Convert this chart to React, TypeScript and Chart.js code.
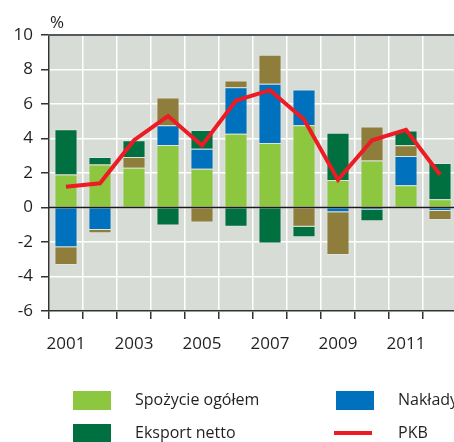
import React, { useEffect, useRef } from "react";
import { Chart, registerables } from "chart.js";

Chart.register(...registerables);

const years = ["2001", "2002", "2003", "2004", "2005", "2006", "2007", "2008", "2009", "2010", "2011", "2012"];
const consumption = [1.91, 2.49, 2.3, 3.63, 2.24, 4.27, 3.74, 4.77, 1.6, 2.72, 1.29, 0.48];
const investment = [-2.3, -1.3, 0, 1.14, 1.16, 2.7, 3.44, 2.07, -0.27, -0.12, 1.7, -0.2];
const inventories = [-1.04, -0.19, 0.63, 1.6, -0.87, 0.39, 1.68, -1.12, -2.49, 1.97, 0.62, -0.52];
const netExports = [2.63, 0.44, 0.97, -1.04, 1.1, -1.12, -2.09, -0.6, 2.74, -0.67, 0.85, 2.1];
const gdp = [1.2, 1.4, 3.9, 5.3, 3.6, 6.2, 6.8, 5.1, 1.6, 3.9, 4.5, 1.9];
const yTicks = [-6, -4, -2, 0, 2, 4, 6, 8, 10];

const C_CONS = "#8dc63f";
const C_INV = "#0071bc";
const C_INVT = "#8f7d3b";
const C_EXP = "#007041";
const C_GDP = "#ed1c24";
const TXT = "#231f20";
const FONT = "'Open Sans', 'Noto Sans', sans-serif";

export default function App() {
  const ref = useRef<HTMLCanvasElement | null>(null);

  useEffect(() => {
    if (!ref.current) return;
    const decor = {
      id: "decor",
      beforeDraw(chart: any) {
        const { ctx, chartArea: a } = chart;
        ctx.save();
        ctx.fillStyle = "#d8dcd6";
        ctx.fillRect(a.left, a.top, a.right - a.left, a.bottom - a.top);
        ctx.restore();
      },
      afterDatasetsDraw(chart: any) {
        const { ctx, chartArea: a } = chart;
        const y0 = chart.scales.y.getPixelForValue(0);
        ctx.save();
        ctx.strokeStyle = "#1a1a1a";
        ctx.lineWidth = 1.5;
        ctx.beginPath();
        ctx.moveTo(a.left, y0);
        ctx.lineTo(a.right, y0);
        ctx.stroke();
        ctx.strokeStyle = "#58595b";
        ctx.lineWidth = 2;
        ctx.beginPath();
        ctx.moveTo(a.left - 1, a.top);
        ctx.lineTo(a.right, a.top);
        ctx.stroke();
        ctx.restore();
      },
      afterDraw(chart: any) {
        const { ctx, chartArea: a } = chart;
        ctx.save();
        ctx.fillStyle = TXT;
        ctx.textBaseline = "middle";
        ctx.textAlign = "left";
        ctx.font = `17px ${FONT}`;
        ctx.fillText("%", a.left + 1, 23);
        ctx.font = `16px ${FONT}`;
        const pos: Record<string, [number, number]> = {
          "Spożycie ogółem": [73, 400],
          "Nakłady brutto na środki trwałe": [336, 400],
          "Eksport netto": [73, 433],
          "PKB": [336, 433],
          "Zmiana zapasów": [73, 466],
        };
        chart.data.datasets.forEach((d: any) => {
          const p = pos[d.label];
          if (!p) return;
          const [x, y] = p;
          if (d.type === "line") {
            ctx.fillStyle = d.borderColor;
            ctx.fillRect(x - 2, y - 2, 38, 4);
          } else {
            ctx.fillStyle = d.backgroundColor;
            ctx.fillRect(x, y - 9, 38, 19);
          }
          ctx.fillStyle = TXT;
          ctx.fillText(d.label, x + 62, y);
        });
        ctx.restore();
      },
    };

    const tickFont = { family: FONT, size: 17 };
    const edge = "rgba(255,255,255,0.22)";
    const chart = new Chart(ref.current, {
      type: "bar",
      data: {
        labels: years,
        datasets: [
          { type: "line", label: "PKB", data: gdp, borderColor: C_GDP, backgroundColor: C_GDP, borderWidth: 4, pointRadius: 0, tension: 0, borderJoinStyle: "miter", order: 0, stack: "gdp" } as any,
          { label: "Spożycie ogółem", data: consumption, backgroundColor: C_CONS, borderColor: edge, borderWidth: 1, order: 1, stack: "s" },
          { label: "Nakłady brutto na środki trwałe", data: investment, backgroundColor: C_INV, borderColor: edge, borderWidth: 1, order: 1, stack: "s" },
          { label: "Zmiana zapasów", data: inventories, backgroundColor: C_INVT, borderColor: edge, borderWidth: 1, order: 1, stack: "s" },
          { label: "Eksport netto", data: netExports, backgroundColor: C_EXP, borderColor: edge, borderWidth: 1, order: 1, stack: "s" },
        ],
      },
      options: {
        responsive: false,
        animation: false,
        devicePixelRatio: 1,
        layout: { padding: { left: 0, right: 23, top: 35, bottom: 0 } },
        datasets: { bar: { barPercentage: 0.68, categoryPercentage: 1 } },
        plugins: { legend: { display: false }, tooltip: { enabled: false } },
        scales: {
          x: {
            stacked: true,
            offset: true,
            grid: { color: "#ffffff", lineWidth: 1.5, tickColor: "#333333", tickLength: 8, offset: true },
            border: { color: "#333333", width: 1.5 },
            ticks: {
              autoSkip: false,
              maxRotation: 0,
              padding: 15,
              color: TXT,
              font: tickFont,
              callback: (_v: any, i: number) => (i % 2 === 0 ? years[i] : ""),
            },
            afterFit: (s: any) => {
              s.height = 131;
            },
          },
          y: {
            stacked: true,
            min: yTicks[0],
            max: yTicks[yTicks.length - 1],
            ticks: { stepSize: 2, padding: 8, color: TXT, font: tickFont },
            grid: { color: "#ffffff", lineWidth: 1.5, tickColor: "#333333", tickLength: 8 },
            border: { color: "#333333", width: 1.5 },
            afterFit: (s: any) => {
              s.width = 49;
            },
          },
        },
      },
      plugins: [decor],
    } as any);
    return () => chart.destroy();
  }, []);

  return (
    <div style={{ position: "fixed", left: 0, top: 0, width: 454, height: 442, overflow: "hidden", background: "#fff" }}>
      <canvas ref={ref} width={480} height={442} style={{ display: "block", width: 480, height: 442 }} />
    </div>
  );
}
